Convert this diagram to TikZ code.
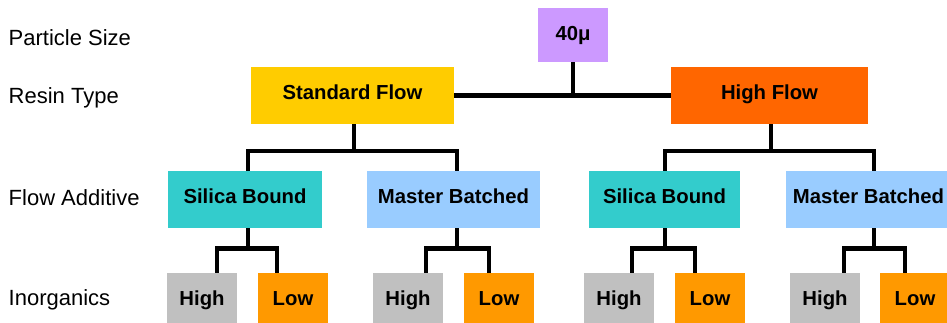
\documentclass[tikz,border=0pt]{standalone}
\usepackage{fontspec}
\setmainfont{Liberation Sans}
\usetikzlibrary{positioning}
\definecolor{sizecol}{HTML}{CC99FF}
\definecolor{stdcol}{HTML}{FFCC00}
\definecolor{hicol}{HTML}{FF6600}
\definecolor{silcol}{HTML}{33CCCC}
\definecolor{mbcol}{HTML}{99CCFF}
\definecolor{highcol}{HTML}{C0C0C0}
\definecolor{lowcol}{HTML}{FF9900}
\tikzset{
  level/.style={anchor=base west, inner sep=0pt, font=\fontsize{22}{26}\selectfont},
  box/.style={rectangle, inner sep=0pt, minimum height=57pt,
    font=\bfseries\fontsize{20.3}{24}\selectfont, text height=14.5pt, text depth=7pt},
  sizebox/.style={box, fill=sizecol, minimum width=70pt, minimum height=54pt, text depth=3pt},
  stdbox/.style={box, fill=stdcol, minimum width=203pt},
  hibox/.style={box, fill=hicol, minimum width=197pt},
  silbox/.style={box, fill=silcol},
  mbbox/.style={box, fill=mbcol},
  highbox/.style={box, fill=highcol, minimum width=70pt},
  lowbox/.style={box, fill=lowcol, minimum width=70pt},
  link/.style={line width=4.6pt, draw=black}
}
\begin{document}
\begin{tikzpicture}[x=1pt, y=-1pt]
    \useasboundingbox (0,0) rectangle (947,323);
    \clip (0,0) rectangle (947,323);

    % row labels
    \node[level] (lsize) at (8.5,45.9)  {Particle Size};
    \node[level] (lresin) at (8.5,103.6) {Resin Type};
    \node[level] (lflow) at (8.5,205.9) {Flow Additive};
    \node[level] (linorg) at (8.5,305.9) {Inorganics};

    % tree
    \node[sizebox] (size) at (573,35)   {40μ};
    \node[stdbox]  (std)  at (352.5,95.5) {Standard Flow};
    \node[hibox]   (hi)   at (769.5,95.5) {High Flow};

    \node[silbox, minimum width=154pt] (sb1) at (245,199.5)   {Silica Bound};
    \node[mbbox,  minimum width=173pt] (mb1) at (453.5,199.5) {Master Batched};
    \node[silbox, minimum width=151pt] (sb2) at (664.5,199.5) {Silica Bound};
    \node[mbbox,  minimum width=165pt] (mb2) at (868.5,199.5) {Master Batched};

    \node[highbox] (hi1) at (202,301.5) {High};
    \node[lowbox]  (lo1) at (293,301.5) {Low};
    \node[highbox] (hi2) at (408,301.5) {High};
    \node[lowbox]  (lo2) at (499,301.5) {Low};
    \node[highbox] (hi3) at (619,301.5) {High};
    \node[lowbox]  (lo3) at (710,301.5) {Low};
    \node[highbox] (hi4) at (825,301.5) {High};
    \node[lowbox]  (lo4) at (915,301.5) {Low};

    % connectors
    \draw[link] (std) -- (hi);
    \draw[link] (size.south) -- (size.south |- std.east);

    \draw[link] ([xshift=1.5pt]std.south) -- ++(0,-27pt) coordinate (fstd);
    \draw[link] ([xshift=3pt]sb1.north) |- (fstd) -| ([xshift=3.5pt]mb1.north);
    \draw[link] ([xshift=1.5pt]hi.south) -- ++(0,-27pt) coordinate (fhi);
    \draw[link] ([xshift=0.5pt]sb2.north) |- (fhi) -| ([xshift=5.5pt]mb2.north);

    \draw[link] ([xshift=3pt]sb1.south) -- ++(0,-20pt) coordinate (f1);
    \draw[link] ([xshift=15pt]hi1.north) |- (f1) -| ([xshift=-16pt]lo1.north);
    \draw[link] ([xshift=3.5pt]mb1.south) -- ++(0,-20pt) coordinate (f2);
    \draw[link] ([xshift=18pt]hi2.north) |- (f2) -| ([xshift=-10pt]lo2.north);
    \draw[link] ([xshift=0.5pt]sb2.south) -- ++(0,-20pt) coordinate (f3);
    \draw[link] ([xshift=13pt]hi3.north) |- (f3) -| ([xshift=-15pt]lo3.north);
    \draw[link] ([xshift=5.5pt]mb2.south) -- ++(0,-20pt) coordinate (f4);
    \draw[link] ([xshift=19pt]hi4.north) |- (f4) -| ([xshift=-10pt]lo4.north);
  \end{tikzpicture}
\end{document}
